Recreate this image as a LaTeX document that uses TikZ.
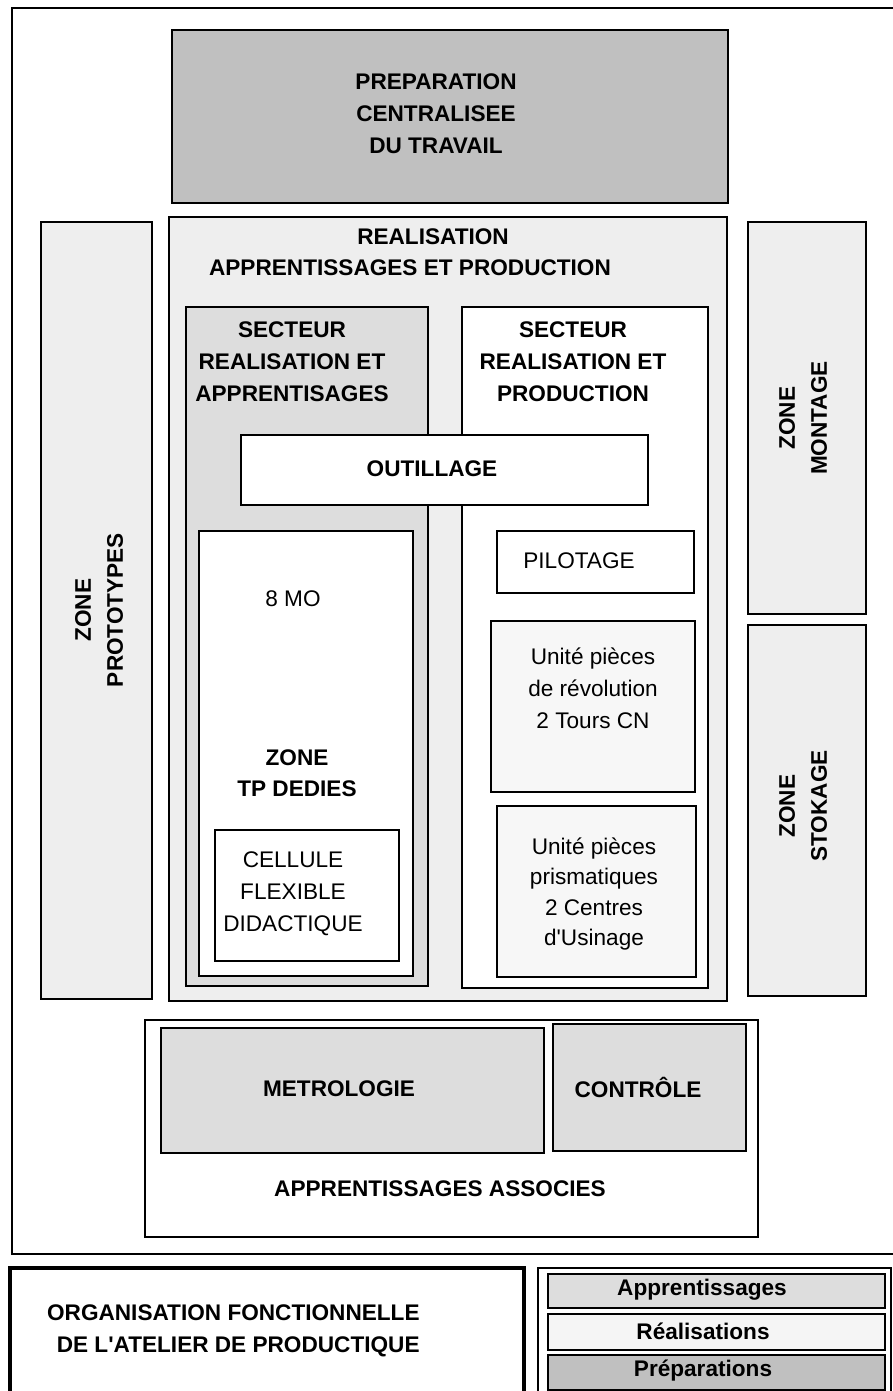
\documentclass[tikz,border=0pt]{standalone}
\usepackage{fontspec}
\setmainfont{Liberation Sans}
\definecolor{prepgray}{HTML}{C0C0C0}
\definecolor{appgray}{HTML}{DDDDDD}
\definecolor{realgray}{HTML}{EEEEEE}
\definecolor{unitgray}{HTML}{F7F7F7}
\definecolor{leggray}{HTML}{F5F5F5}
\begin{document}
\begin{tikzpicture}[x=0.5pt, y=-0.5pt,
    zone/.style={draw, line width=1.25pt},
    lbl/.style={font=\fontsize{11.3}{16}\selectfont\bfseries, align=center, inner sep=0pt},
    txt/.style={font=\fontsize{11.3}{16}\selectfont, align=center, inner sep=0pt}]
    \useasboundingbox (0,0) rectangle (893,1391);
    \clip (0,0) rectangle (893,1391);
    \fill [white] (0,0) rectangle (893,1391);
    \draw [zone] (12,8) rectangle (905,1254);

    \draw [zone, fill=prepgray] (172,30) rectangle (728,203);
    \node [lbl] (prep) at (436,114) {PREPARATION\\CENTRALISEE\\DU TRAVAIL};

    \draw [zone, fill=realgray] (41,222) rectangle (152,999);
    \node [lbl, rotate=90] (proto) at (99,610) {ZONE\\PROTOTYPES};

    \draw [zone, fill=realgray] (169,217) rectangle (727,1001);
    \node [lbl] (real) at (433,237) {REALISATION};
    \node [lbl] (realsub) at (410,268) {APPRENTISSAGES ET PRODUCTION};

    \draw [zone, fill=appgray] (186,307) rectangle (428,986);
    \node [lbl] (secta) at (292,362) {SECTEUR\\REALISATION ET\\APPRENTISAGES};
    \draw [zone, fill=white] (462,307) rectangle (708,988);
    \node [lbl] (sectb) at (573,362) {SECTEUR\\REALISATION ET\\PRODUCTION};

    \draw [zone, fill=white] (241,435) rectangle (648,505);
    \node [lbl] (outil) at (432,469) {OUTILLAGE};

    \draw [zone, fill=white] (199,531) rectangle (413,976);
    \node [txt] (mo) at (293,599) {8 MO};
    \node [lbl, font=\fontsize{11.3}{15.5}\selectfont\bfseries] (tp) at (297,773) {ZONE\\TP DEDIES};
    \draw [zone, fill=white] (215,830) rectangle (399,961);
    \node [txt] (cell) at (293,894) {CELLULE\\FLEXIBLE\\DIDACTIQUE};

    \draw [zone, fill=white] (497,531) rectangle (694,593);
    \node [txt] (pilot) at (579,561) {PILOTAGE};
    \draw [zone, fill=unitgray] (491,621) rectangle (695,792);
    \node [txt] (unitrev) at (593,688) {Unité pièces\\de révolution\\2 Tours CN};
    \draw [zone, fill=unitgray] (497,806) rectangle (696,977);
    \node [txt, font=\fontsize{11.3}{15.3}\selectfont] (unitpri) at (594,894) {Unité pièces\\prismatiques\\2 Centres\\d\textquotesingle Usinage};

    \draw [zone, fill=realgray] (748,222) rectangle (866,614);
    \node [lbl, rotate=90] (mont) at (803,418) {ZONE\\MONTAGE};
    \draw [zone, fill=realgray] (748,625) rectangle (866,996);
    \node [lbl, rotate=90] (stock) at (803,806) {ZONE\\STOKAGE};

    \draw [zone, fill=white] (145,1020) rectangle (758,1237);
    \draw [zone, fill=appgray] (161,1028) rectangle (544,1153);
    \node [lbl] (metro) at (339,1089) {METROLOGIE};
    \draw [zone, fill=appgray] (553,1024) rectangle (746,1151);
    \node [lbl] (ctrl) at (638,1087) {CONTRÔLE};
    \node [lbl] (assoc) at (440,1189) {APPRENTISSAGES ASSOCIES};

    \draw [line width=2.2pt] (10,1268) rectangle (524,1420);
    \node [lbl, align=right, anchor=east] (title) at (420,1331) {ORGANISATION FONCTIONNELLE\\DE L\textquotesingle ATELIER DE PRODUCTIQUE};

    \draw [line width=0.9pt] (538,1268) rectangle (891,1420);
    \draw [zone, fill=appgray] (548,1274) rectangle (885,1308);
    \node [lbl] (legapp) at (702,1290) {Apprentissages};
    \draw [zone, fill=leggray] (548,1314) rectangle (885,1350);
    \node [lbl] (legreal) at (703,1331) {Réalisations};
    \draw [zone, fill=prepgray] (548,1355) rectangle (885,1390);
    \node [lbl] (legprep) at (703,1371) {Préparations};
\end{tikzpicture}
\end{document}
